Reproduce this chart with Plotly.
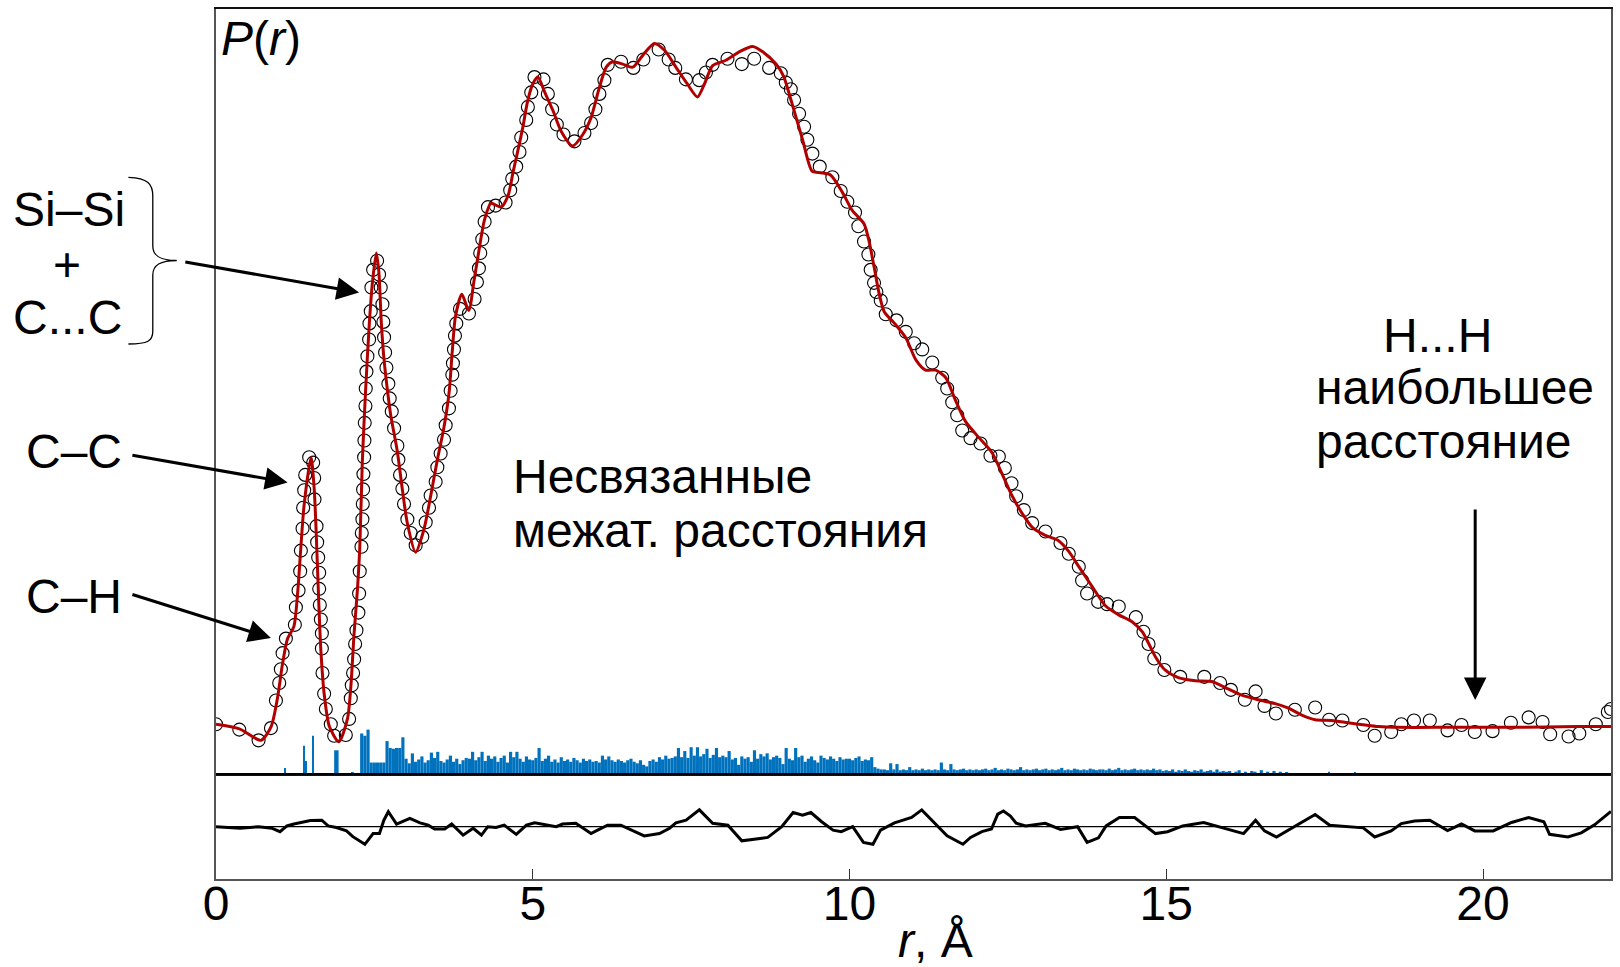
import plotly.graph_objects as go

FONT = "Liberation Sans, Arial, sans-serif"

# ---------------- data ----------------
# fitted P(r) curve (red)
fit_r = [0.00, 0.37, 0.71, 0.87, 0.97, 1.05, 1.13, 1.23, 1.29, 1.34, 1.39, 1.50, 1.55, 1.58, 1.62,
         1.655, 1.71, 1.79, 1.94, 2.075, 2.13, 2.18, 2.23, 2.27, 2.31, 2.36, 2.42, 2.47, 2.53, 2.57,
         2.61, 2.65, 2.71, 2.76, 2.86, 2.94, 3.02, 3.15, 3.28, 3.39, 3.49, 3.60, 3.68, 3.73, 3.78,
         3.88, 3.99, 4.07, 4.15, 4.24, 4.34, 4.50, 4.61, 4.69, 4.76, 4.84, 4.92, 5.00, 5.08, 5.19,
         5.32, 5.45, 5.63, 5.79, 5.92, 6.05, 6.16, 6.26, 6.42, 6.58, 6.76, 6.92, 7.08, 7.26, 7.44,
         7.60, 7.71, 7.84, 8.05, 8.26, 8.47, 8.63, 8.84, 8.96, 9.08, 9.26, 9.41, 9.55, 9.70, 9.89,
         10.04, 10.23, 10.31, 10.39, 10.47, 10.55, 10.70, 10.89, 11.05, 11.20, 11.36, 11.52, 11.67,
         11.83, 12.04, 12.25, 12.41, 12.57, 12.73, 12.89, 13.09, 13.30, 13.46, 13.62, 13.83, 14.04,
         14.25, 14.46, 14.62, 14.72, 14.83, 14.98, 15.19, 15.46, 15.72, 15.93, 16.19, 16.45, 16.72,
         16.93, 17.14, 17.35, 17.61, 17.87, 18.14, 18.35, 18.66, 19.50, 20.50, 21.50, 22.02]
fit_p = [6.5, 5.9, 4.4, 6.2, 9.9, 14.4, 17.7, 19.3, 23.8, 29.7, 35.1, 41.4, 37.3, 31.9, 22.9,
         16.2, 10.3, 6.2, 4.2, 7.2, 11.6, 18.4, 23.8, 29.7, 40.9, 49.9, 58.9, 64.3, 68.1, 65.7,
         58.9, 54.4, 49.9, 46.8, 42.3, 37.3, 32.8, 29.0, 31.9, 36.4, 40.9, 45.4, 49.9, 55.3, 59.8,
         62.7, 60.6, 64.3, 68.4, 72.5, 74.6, 74.1, 75.6, 78.7, 81.3, 84.4, 88.0, 90.2, 91.1, 89.1,
         86.7, 84.0, 82.1, 83.6, 85.8, 89.7, 92.4, 93.1, 92.8, 92.4, 94.2, 95.5, 94.6, 92.4, 90.2,
         88.5, 90.2, 92.6, 93.3, 94.4, 95.1, 94.4, 92.8, 91.2, 88.0, 82.9, 78.8, 78.6, 78.3, 76.0,
         73.7, 71.9, 69.6, 66.2, 62.7, 60.4, 59.0, 57.0, 54.1, 52.8, 52.8, 51.8, 48.9,
         46.1, 44.0, 42.0, 39.2, 36.3, 34.0, 32.2, 31.2, 30.5, 29.1, 27.1, 24.5, 22.0,
         20.8, 19.9, 18.6, 17.1, 15.3, 13.6, 12.6, 12.2, 12.1, 11.3, 10.3, 9.7, 9.2,
         8.6, 7.7, 7.1, 7.0, 6.7, 6.4, 6.2, 6.1, 6.1, 6.1, 6.2, 6.2]

# experimental points (open circles)
data_r = [0.00, 0.368, 0.672, 0.867, 0.946, 0.998, 1.024, 1.051, 1.103, 1.245, 1.261, 1.303, 1.329,
          1.340, 1.366, 1.376, 1.392, 1.408, 1.471, 1.534, 1.550, 1.555, 1.587, 1.597, 1.613, 1.629,
          1.629, 1.639, 1.655, 1.671, 1.671, 1.681, 1.707, 1.734, 1.812, 1.865, 2.049, 2.101, 2.128,
          2.143, 2.164, 2.180, 2.196, 2.217, 2.248, 2.259, 2.269, 2.296, 2.301, 2.311, 2.317, 2.322,
          2.327, 2.338, 2.343, 2.348, 2.359, 2.364, 2.375, 2.390, 2.417, 2.422, 2.443, 2.453, 2.480,
          2.543, 2.574, 2.600, 2.627, 2.642, 2.653, 2.669, 2.690, 2.721, 2.742, 2.774, 2.811, 2.863,
          2.879, 2.905, 2.942, 2.968, 3.021, 3.073, 3.152, 3.257, 3.310, 3.362, 3.388, 3.467, 3.494,
          3.546, 3.599, 3.625, 3.677, 3.704, 3.730, 3.740, 3.756, 3.772, 3.793, 3.851, 3.993,
          4.082, 4.119, 4.150, 4.171, 4.203, 4.240, 4.293, 4.413, 4.571, 4.644, 4.676, 4.739, 4.791,
          4.818, 4.897, 4.923, 4.976, 5.027, 5.169, 5.238, 5.306, 5.380, 5.485, 5.658, 5.816, 5.921,
          5.989, 6.052, 6.131, 6.184, 6.394, 6.588, 6.746, 6.987, 7.145, 7.250, 7.418, 7.628, 7.733,
          7.838, 8.074, 8.300, 8.495, 8.731, 8.915, 8.994,
          9.073, 9.125, 9.204, 9.283, 9.335, 9.414, 9.530, 9.729, 9.861, 9.966, 10.087, 10.140,
          10.229, 10.298, 10.334, 10.387, 10.424, 10.493, 10.572, 10.741, 10.888, 11.020, 11.148,
          11.306, 11.463, 11.542, 11.621, 11.700, 11.779, 11.910, 12.068, 12.225, 12.357, 12.452,
          12.557, 12.631, 12.752, 12.883, 13.093, 13.330, 13.461, 13.619, 13.671, 13.750, 13.924,
          14.066, 14.250, 14.52, 14.64, 14.72, 14.81, 14.97, 15.22, 15.60, 15.85, 16.02, 16.24,
          16.41, 16.55, 16.73, 17.03, 17.35, 17.57, 17.78, 18.11, 18.29, 18.55, 18.71, 18.91, 19.16,
          19.44, 19.66, 19.87, 20.15, 20.44, 20.72, 20.94, 21.06, 21.35, 21.52, 21.78, 21.97, 22.02]
data_p = [6.5, 5.8, 4.4, 6.0, 9.6, 11.9, 13.7, 15.8, 17.7, 19.5, 21.8, 24.0, 26.5,
          29.2, 32.1, 34.8, 37.1, 39.1, 41.4, 40.7, 38.7, 35.9, 32.4, 30.3, 28.3, 26.3,
          24.2, 22.1, 20.2, 18.4, 16.4, 13.2, 10.5, 8.5, 6.5, 5.0, 5.1, 7.2, 9.9,
          11.6, 13.2, 15.0, 17.0, 18.8, 21.1, 23.6, 26.5, 29.7, 31.5, 33.3, 35.3, 37.2,
          39.2, 41.4, 43.6, 45.9, 48.1, 50.4, 52.6, 54.6, 56.8, 58.9, 60.5, 63.6, 65.9,
          67.1, 65.3, 63.6, 61.4, 59.1, 57.1, 55.1, 53.1, 51.0, 49.1, 47.4, 45.2, 42.9,
          41.1, 39.1, 37.3, 35.3, 33.3, 31.5, 29.9, 31.0, 32.9, 34.8, 36.4, 38.2, 40.1,
          41.9, 43.7, 45.6, 47.8, 50.1, 52.2, 53.7, 55.5, 57.3, 58.9, 60.8, 60.2,
          62.1, 64.3, 66.1, 68.1, 69.9, 72.2, 74.1, 74.3, 74.7, 76.3, 77.8, 79.4, 81.3,
          83.2, 85.5, 87.2, 89.1, 91.1, 90.8, 88.9, 86.9, 84.9, 83.6, 82.7, 83.8, 85.1,
          86.9, 88.9, 90.7, 92.7, 93.1, 92.3, 93.4, 94.7, 93.4, 92.3, 90.8, 90.7, 91.7,
          92.7, 93.5, 92.8, 93.5, 92.3, 91.6, 90.4,
          89.5, 88.1, 86.3, 84.6, 82.9, 81.1, 79.4, 78.0, 76.2, 74.8, 73.4, 71.6,
          69.6, 67.9, 65.9, 64.2, 63.0, 61.9, 60.1, 59.3, 57.8, 56.3, 55.5,
          53.8, 51.8, 50.4, 48.6, 46.9, 44.9, 43.9, 43.2, 41.6, 41.5, 40.0,
          38.0, 36.3, 34.5, 32.8, 31.7, 30.2, 28.8, 27.1, 25.3, 23.6, 22.5,
          22.2, 21.9, 20.5, 18.6, 17.0, 15.1, 13.6, 12.7, 12.7, 11.9, 11.0, 9.7,
          10.8, 8.9, 7.9, 8.4, 8.7, 7.1, 7.0, 6.4, 5.0, 5.5, 6.5, 7.0, 7.0,
          5.7, 6.4, 5.5, 5.6, 6.7, 7.4, 6.8, 5.2, 4.9, 5.3, 6.5, 8.1, 8.5]

# difference curve (bottom panel)
res_r = [0.00, 0.38, 0.67, 0.88, 1.01, 1.12, 1.23, 1.38, 1.49, 1.67, 1.77, 1.90, 2.06, 2.16, 2.35,
         2.48, 2.58, 2.65, 2.72, 2.85, 3.06, 3.22, 3.35, 3.45, 3.61, 3.72, 3.90, 4.06, 4.19, 4.29,
         4.42, 4.55, 4.74, 4.90, 5.03, 5.37, 5.47, 5.68, 5.92, 6.00, 6.18, 6.39, 6.58, 6.76, 7.00,
         7.16, 7.26, 7.42, 7.63, 7.84, 8.08, 8.30, 8.71, 8.93, 9.11, 9.26, 9.39, 9.56, 9.74, 9.87,
         10.05, 10.22, 10.37, 10.49, 10.71, 10.98, 11.14, 11.34, 11.54, 11.79, 11.91, 12.09, 12.24,
         12.34, 12.43, 12.54, 12.63, 12.78, 13.09, 13.33, 13.60, 13.75, 13.93, 14.05, 14.26, 14.50,
         14.68, 14.83, 15.02, 15.26, 15.59, 15.86, 16.22, 16.41, 16.55, 16.74, 17.35, 17.58, 18.11,
         18.29, 18.55, 18.71, 18.92, 19.16, 19.44, 19.66, 19.87, 20.16, 20.45, 20.72, 20.96, 21.05,
         21.34, 21.55, 21.76, 22.02]
res_v = [0.0, -0.2, 0.0, -0.2, -0.65, 0.1, 0.35, 0.65, 0.8, 0.85, 0.1, -0.1, -0.55, -1.3, -2.3,
         -0.9, -0.9, 0.85, 1.95, 0.35, 1.1, 0.5, 0.2, -0.3, -0.3, 0.35, -1.1, -0.2, -1.1, 0.0,
         -0.1, 0.2, -1.0, 0.2, 0.5, 0.0, 0.35, 0.45, -0.9, -0.55, 0.2, 0.2, -0.5, -1.2, -0.9,
         -0.2, 0.5, 0.85, 2.2, 0.45, 0.2, -1.85, -1.4, 0.0, 1.85, 1.5, 1.85, 0.65, -0.45, -0.65,
         0.0, -2.05, -2.3, -0.45, 0.5, 1.2, 2.2, 0.45, -1.2, -2.3, -1.4, -0.65, -0.3,
         1.65, 2.05, 1.4, 0.45, 0.1, 0.45, -0.35, 0.0, -2.05, -1.45, 0.1, 1.2, 1.2,
         0.1, -0.9, -0.65, 0.1, 0.55, -0.1, -0.9, 0.85, -0.55, -1.35, 1.6, 0.2, -0.15,
         -1.35, -0.55, 0.4, 0.75, 0.85, -0.5, 0.35, -0.55, -0.55, 0.55, 1.2, 0.65, -1.0,
         -1.35, -0.8, 0.25, 2.0]

# interatomic distance histogram (blue bars): isolated short distances
spike_r = [1.09, 1.39, 1.42, 1.53, 1.90, 2.16]
spike_h = [0.8, 3.7, 1.7, 5.0, 3.1, 0.15]
spike_w = [0.02, 0.02, 0.02, 0.02, 0.07, 0.03]
# dense part, 0.05 Å bins starting at 2.30 Å
dense_start = 2.30
dense_step = 0.05
dense_h = ([5.3, 5.0, 5.8, 1.5, 1.5, 1.5, 1.5, 1.5, 4.3, 3.4, 3.3, 3.4, 3.4, 4.8]
           + [2.0, 1.4, 2.7, 1.6, 1.9, 2.3, 1.5, 1.8, 2.8, 2.1, 2.9, 1.7, 1.5, 1.9, 2.4, 1.6, 2.0, 1.3, 1.8, 2.1]
           + [2.0, 2.9, 1.8, 2.2, 2.9, 1.7, 2.4, 2.0, 2.3, 1.6, 2.1, 2.4, 1.5, 2.9, 2.2, 2.9, 2.0, 1.6, 2.3, 1.9]
           + [1.8, 2.1, 3.4, 1.7, 2.0, 2.4, 1.6, 1.9, 1.5, 2.2, 1.7, 1.9, 1.6, 2.1, 1.8, 1.5, 2.0, 1.7, 1.9, 1.6]
           + [1.7, 1.5, 2.4, 1.9, 2.3, 1.8, 1.6, 1.9, 1.7, 1.5, 1.8, 2.0, 1.6, 1.4, 1.8, 1.2, 1.0, 1.7, 1.9, 1.6]
           + [2.2, 1.9, 2.4, 2.0, 2.1, 2.3, 3.4, 2.2, 3.0, 2.1, 3.5, 2.4, 3.5, 2.3, 2.6, 3.3, 2.1, 2.5, 3.4, 2.2]
           + [2.4, 2.2, 3.0, 1.9, 2.1, 1.2, 2.3, 2.0, 2.2, 1.6, 3.1, 2.0, 2.6, 2.3, 2.7, 1.9, 2.2, 2.4, 2.1, 1.3]
           + [3.4, 2.0, 1.8, 3.4, 2.2, 2.4, 1.6, 2.0, 2.3, 1.8, 1.5, 2.4, 2.1, 1.9, 2.3, 2.0, 1.7, 2.2, 1.9, 2.0]
           + [2.0, 1.8, 2.1, 2.3, 1.7, 1.9, 1.8, 2.2, 0.9, 0.7, 0.6, 0.6, 0.5, 1.4, 0.6, 1.3, 0.5, 0.6, 0.5, 0.9]
           + [0.5, 0.6, 0.5, 0.7, 0.5, 0.6, 0.5, 0.6, 0.5, 1.5, 0.6, 0.5, 1.3, 0.6, 0.5, 0.6, 0.7, 0.5, 0.6, 0.5]
           + [0.6, 0.5, 0.6, 0.7, 0.5, 0.6, 0.8, 0.5, 0.6, 0.5, 0.7, 0.6, 0.5, 0.6, 0.9, 0.5, 0.6, 0.5, 0.6, 0.7]
           + [0.5, 0.6, 0.7, 0.5, 0.6, 0.5, 0.6, 0.8, 0.5, 0.6, 0.5, 0.7, 0.6, 0.5, 0.6, 0.5, 0.7, 0.6, 0.5, 0.6]
           + [0.6, 0.5, 0.7, 0.5, 0.6, 0.8, 0.5, 0.6, 0.5, 0.6, 0.7, 0.5, 0.6, 0.5, 0.6, 0.5, 0.7, 0.5, 0.6, 0.4]
           + [0.5, 0.4, 0.6, 0.3, 0.5, 0.4, 0.6, 0.4, 0.3, 0.5, 0.4, 0.6, 0.3, 0.4, 0.5, 0.3, 0.6, 0.3, 0.4, 0.3]
           + [0.4, 0.0, 0.3, 0.5, 0.0, 0.3, 0.0, 0.4, 0.3, 0.0, 0.5, 0.0, 0.3, 0.0, 0.4, 0.0, 0.3, 0.0, 0.2, 0.0])
tail_r = [17.57, 17.98]
tail_h = [0.3, 0.2]

tick_vals = [0, 5, 10, 15, 20]
tick_text = ["0", "5", "10", "15", "20"]

# ---------------- geometry ----------------
W, H = 1620, 967
ML, MR, MT, MB = 216, 7, 9, 88
PW, PH = W - ML - MR, H - MT - MB
X_MAX = 22.02
FS = 48


def pxx(x):
    return (x - ML) / PW


def pyy(y):
    return (H - MB - y) / PH


split = pyy(774)

dense_r = [dense_start + i * dense_step for i in range(len(dense_h))]
bar_x = spike_r + dense_r + tail_r
bar_y = spike_h + dense_h + tail_h
bar_w = spike_w + [0.05] * len(dense_h) + [0.02, 0.02]

fig = go.Figure()
fig.add_trace(go.Bar(x=bar_x, y=bar_y, width=bar_w, marker=dict(color="#0072BD", line=dict(width=0)),
                     xaxis="x", yaxis="y", showlegend=False, hoverinfo="skip"))
fig.add_trace(go.Scatter(x=data_r, y=data_p, mode="markers", xaxis="x", yaxis="y",
                         marker=dict(symbol="circle-open", size=13, color="black", line=dict(width=1.1)),
                         showlegend=False))
fig.add_trace(go.Scatter(x=fit_r, y=fit_p, mode="lines", xaxis="x", yaxis="y",
                         line=dict(color="#B00000", width=3, shape="spline", smoothing=0.7),
                         showlegend=False))
fig.add_trace(go.Scatter(x=res_r, y=res_v, mode="lines", xaxis="x2", yaxis="y2",
                         line=dict(color="black", width=3), showlegend=False))

box = "#555555"
fig.update_layout(
    width=W, height=H, autosize=False,
    margin=dict(l=ML, r=MR, t=MT, b=MB, pad=0),
    paper_bgcolor="white", plot_bgcolor="white",
    font=dict(family=FONT, size=FS, color="black"),
    barmode="overlay",
    xaxis=dict(domain=[0, 1], range=[0, X_MAX], anchor="y", showticklabels=False, ticks="",
               showgrid=False, zeroline=False, showline=True, mirror=True, linecolor="#111111",
               linewidth=2),
    yaxis=dict(domain=[split, 1], range=[0, 100], anchor="x", showticklabels=False, ticks="",
               showgrid=False, zeroline=False, showline=True, mirror=True, linecolor=box, linewidth=2),
    xaxis2=dict(domain=[0, 1], range=[0, X_MAX], anchor="y2", matches="x", showgrid=False,
                zeroline=False, showline=True, mirror=False, linecolor=box, linewidth=2,
                ticks="inside", ticklen=10, tickwidth=1.2, tickcolor="#333333",
                tickvals=tick_vals, ticktext=tick_text, ticklabelstandoff=-19,
                tickfont=dict(family=FONT, size=FS, color="black")),
    yaxis2=dict(domain=[0, split], range=[(826.7 - 879) / 7.65, (826.7 - 774) / 7.65], anchor="x2",
                showticklabels=False, ticks="", showgrid=False, zeroline=False, showline=True,
                mirror=True, linecolor=box, linewidth=2),
)

# zero line of the difference curve and the panel divider
fig.add_shape(type="line", xref="paper", yref="y2", x0=0, x1=1, y0=0, y1=0,
              line=dict(color="black", width=1.3))
fig.add_shape(type="line", xref="paper", yref="paper", x0=0, x1=1, y0=split, y1=split,
              line=dict(color="black", width=2))

# curly brace
brace_pts = [("M", [(128.3, 177.3)]),
             ("C", [(148, 178), (152.7, 184), (152.7, 196)]),
             ("L", [(152.7, 246)]),
             ("C", [(152.7, 256), (160, 260.5), (176.7, 260.5)]),
             ("C", [(160, 260.5), (152.7, 265), (152.7, 275)]),
             ("L", [(152.7, 331)]),
             ("C", [(152.7, 341), (148, 344), (128.3, 344)])]
path = ""
for cmd, pts in brace_pts:
    path += cmd + " ".join(f"{pxx(x):.5f},{pyy(y):.5f}" for x, y in pts) + " "
fig.add_shape(type="path", xref="paper", yref="paper", path=path.strip(),
              line=dict(color="black", width=1.3))


def text(t, x, y, anchor="center", size=FS):
    fig.add_annotation(text=t, xref="paper", yref="paper", x=pxx(x), y=pyy(y), xanchor=anchor,
                       yanchor="middle", showarrow=False, font=dict(family=FONT, size=size, color="black"))


def arrow(x_tip, y_tip, x_tail, y_tail):
    fig.add_annotation(text="", xref="paper", yref="paper", x=pxx(x_tip), y=pyy(y_tip),
                       ax=x_tail - x_tip, ay=y_tail - y_tip, axref="pixel", ayref="pixel",
                       showarrow=True, arrowhead=2, arrowsize=1.5, arrowwidth=3, arrowcolor="black",
                       standoff=0)


text("<i>P</i>(<i>r</i>)", 219, 39, anchor="left")
text("Si–Si", 11, 209, anchor="left")
text("+", 67, 264)
text("C...C", 11, 317, anchor="left")
text("C–C", 24, 452, anchor="left")
text("C–H", 24, 596, anchor="left")
text("Несвязанные", 511, 477, anchor="left")
text("межат. расстояния", 511, 530, anchor="left")
text("H...H", 1439, 335)
text("наибольшее", 1316, 388, anchor="left")
text("расстояние", 1316, 441, anchor="left")
text("<i>r</i>, Å", 937, 940)

arrow(359.3, 292.5, 184, 261.7)
arrow(287.7, 482.4, 131, 455)
arrow(271, 638, 131, 594)
arrow(1477, 700, 1477, 508)

fig.write_html("out.html")
